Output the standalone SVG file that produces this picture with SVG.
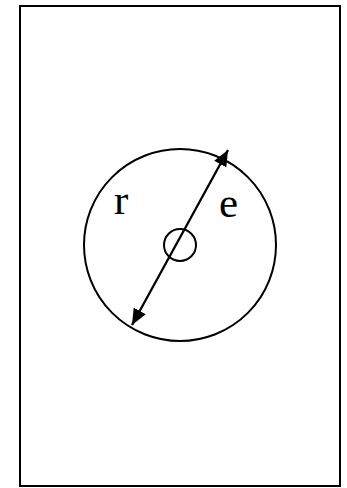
<svg xmlns="http://www.w3.org/2000/svg" width="347" height="488" viewBox="0 0 347 488">
<style>
.ln{fill:none;stroke:#000;stroke-width:2}
.t{font-family:"Liberation Serif","Times New Roman",serif;font-size:43px;fill:#000}
</style>
<defs>
<marker id="ah" viewBox="0 0 14 12" refX="14" refY="6" markerWidth="7" markerHeight="6" orient="auto-start-reverse" markerUnits="strokeWidth">
<path d="M0,0 L14,6 L0,12 z" fill="#000"/>
</marker>
</defs>
<rect id="frame" x="20" y="6" width="320" height="480" class="ln"/>
<g id="outer"><circle cx="180" cy="245" r="96" class="ln"/></g>
<g id="inner"><circle cx="180" cy="245" r="16" class="ln"/></g>
<g id="labels">
<text class="t" x="114" y="214">r</text>
<text class="t" x="219" y="217">e</text>
</g>
<g id="connectors">
<line x1="132" y1="325" x2="228" y2="150" class="ln" style="stroke-width:2.3" marker-start="url(#ah)" marker-end="url(#ah)"/>
</g>
</svg>
